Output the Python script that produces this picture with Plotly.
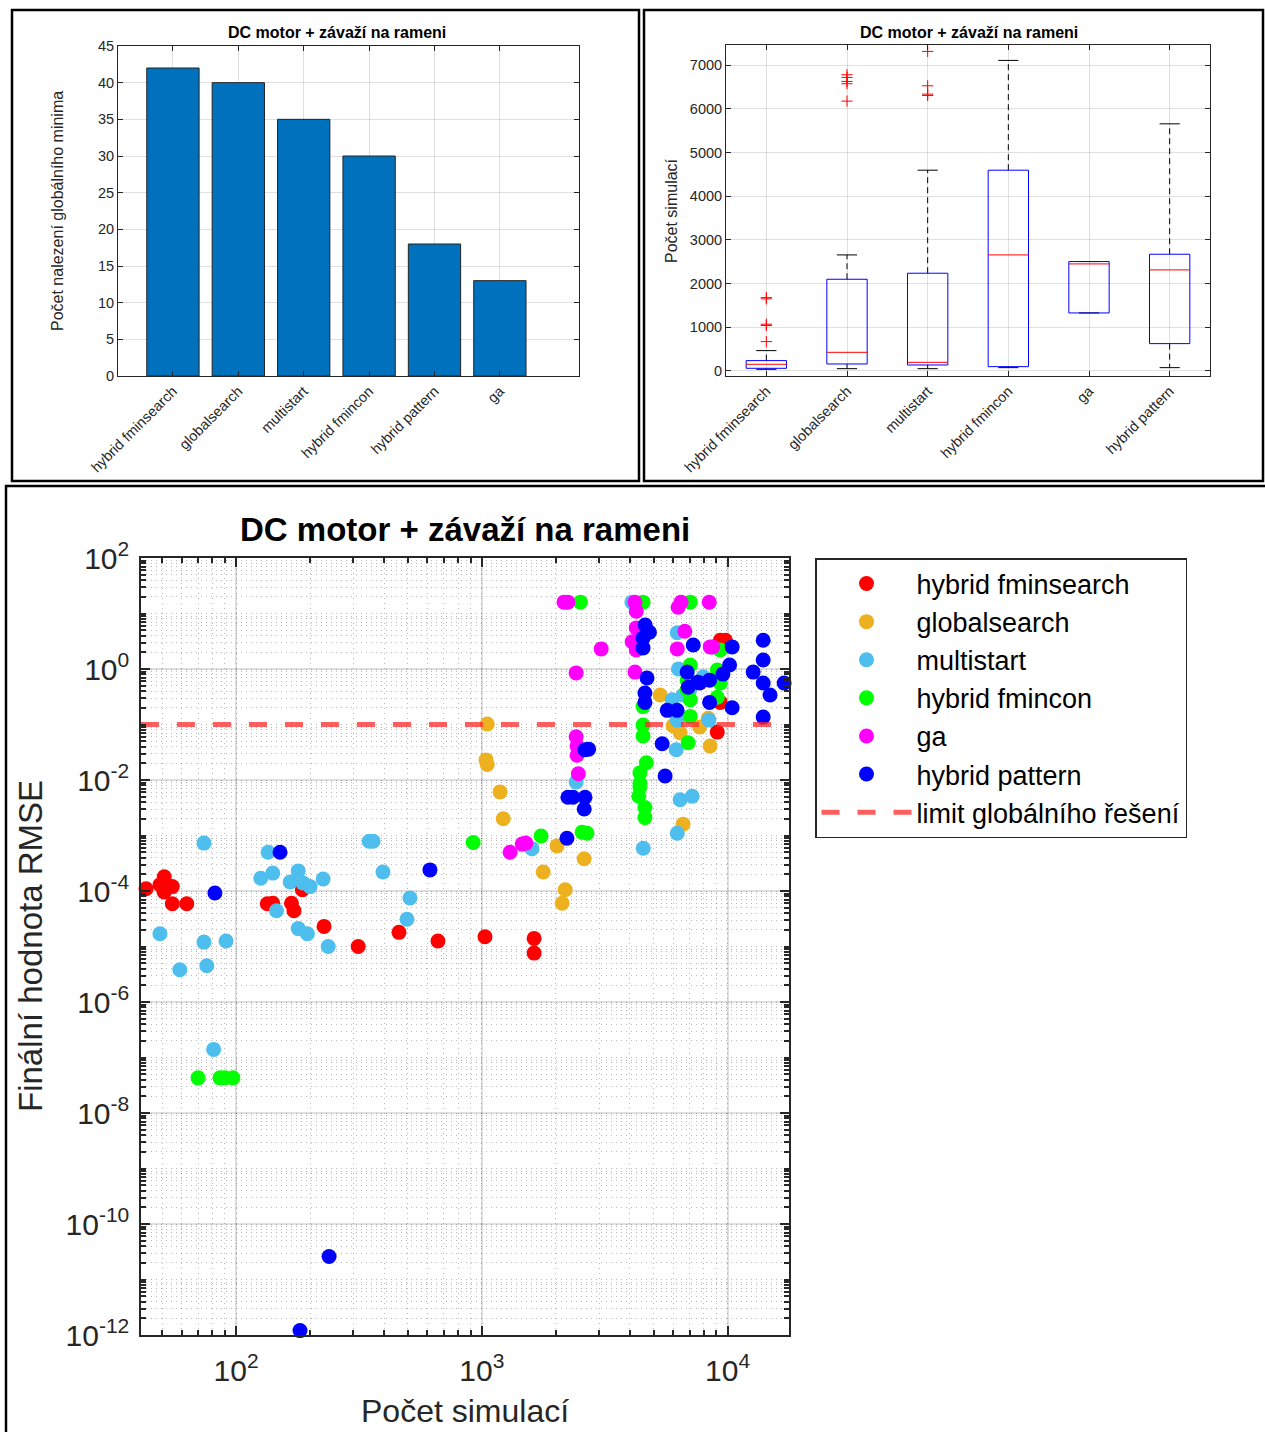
import plotly.graph_objects as go

W, H = 1265, 1432

# ---------------- data ----------------
bar_categories = ["hybrid fminsearch", "globalsearch", "multistart", "hybrid fmincon", "hybrid pattern", "ga"]
bar_counts = [42, 40, 35, 30, 18, 13]

box_categories = ["hybrid fminsearch", "globalsearch", "multistart", "hybrid fmincon", "ga", "hybrid pattern"]
box_q1 = [61, 160, 137, 99, 1328, 626]
box_med = [153, 427, 198, 2656, 2450, 2313]
box_q3 = [237, 2099, 2237, 4595, 2504, 2672]
box_lo = [38, 53, 53, 76, 1328, 76]
box_hi = [466, 2656, 4595, 7107, 2504, 5656]
box_outliers = [
    [672, 1040, 1070, 1650, 1680],
    [6176, 6573, 6626, 6718, 6779],
    [6305, 6336, 6527, 7313],
    [],
    [],
    [],
]

fmins_x = [41, 43, 49, 51, 51, 55, 55, 63, 134, 141, 168, 172, 186, 228, 314, 460, 663, 1030, 1632, 1632,
           9340, 9800, 9340, 9080]
fmins_y = [3.5e-4, 1.1e-4, 1.3e-4, 1.8e-4, 9.6e-5, 1.2e-4, 5.9e-5, 5.9e-5, 5.9e-5, 6.0e-5, 6.0e-5, 4.4e-5,
           1.05e-4, 2.3e-5, 1.0e-5, 1.8e-5, 1.26e-5, 1.5e-5, 1.4e-5, 7.6e-6, 3.3, 3.3, 0.25, 0.073]

gs_x = [1052, 1040, 1052, 1186, 1222, 2023, 1777, 2184, 2122, 2608, 5320, 6410, 6000, 8490, 8340, 6590, 7700]
gs_y = [0.102, 0.023, 0.019, 0.0061, 0.002, 6.5e-4, 2.2e-4, 1.05e-4, 6e-5, 3.8e-4, 0.34, 0.071, 0.095,
        0.041, 0.13, 0.0016, 0.09]

ms_x = [74, 135, 126, 141, 179, 166, 187, 200, 226, 348, 361, 396, 510, 496, 49, 74, 91, 59, 76, 146, 179,
        195, 237, 81, 1600, 2420, 4540, 6410, 7180, 6240, 4080, 6240, 6310, 6590, 6240, 7960, 8400, 6180,
        5950, 7010]
ms_y = [7.3e-4, 5e-4, 1.7e-4, 2.1e-4, 2.3e-4, 1.45e-4, 1.4e-4, 1.2e-4, 1.65e-4, 7.9e-4, 7.9e-4, 2.2e-4,
        7.5e-5, 3.1e-5, 1.7e-5, 1.2e-5, 1.26e-5, 3.8e-6, 4.5e-6, 4.4e-5, 2.1e-5, 1.7e-5, 1.0e-5, 1.4e-7,
        5.8e-4, 0.0092, 5.9e-4, 0.0044, 0.0051, 0.0011, 16, 4.5, 1.0, 0.34, 0.12, 0.72, 0.12, 0.035, 0.28,
        0.42]

fmc_x = [70, 86, 90, 97, 922, 1742, 2560, 2680, 2520, 4530, 7050, 7050, 6850, 6850, 7050, 7050, 9080, 9340,
         9080, 9340, 4530, 4530, 4530, 4670, 4400, 4400, 4350, 4610, 4610, 6910, 4400]
fmc_y = [4.3e-8, 4.3e-8, 4.3e-8, 4.3e-8, 7.5e-4, 9.8e-4, 1.15e-3, 1.1e-3, 16, 16, 16, 1.18, 0.63, 0.42,
         0.28, 0.14, 0.96, 0.56, 0.31, 2.2, 0.21, 0.098, 0.062, 0.0204, 0.0135, 0.0075, 0.0051, 0.0032,
         0.0021, 0.047, 0.0087]

ga_x = [2160, 2240, 3060, 2420, 4200, 4250, 4250, 4090, 4250, 4200, 6470, 6290, 6700, 6240, 8420, 8500,
        8700, 2420, 2440, 2440, 2470, 1303, 1460, 1510]
ga_y = [16, 16, 2.3, 0.85, 16, 11, 5.5, 3.1, 2.2, 0.88, 16, 13, 4.8, 2.3, 16, 2.5, 2.5, 0.06, 0.041,
        0.028, 0.013, 5e-4, 7e-4, 7.3e-4]

pat_x = [151, 82, 615, 239, 182, 2630, 2720, 2240, 2350, 2630, 2610, 2220, 4620, 4810, 4530, 4530, 4700,
         4610, 4610, 5420, 5570, 5680, 6230, 7250, 10440, 10190, 6850, 6910, 7560, 8450, 9570, 8450, 10440,
         13960, 13960, 12710, 13960, 14890, 13960, 16990, 7700]
pat_y = [5e-4, 9.2e-5, 2.4e-4, 2.6e-11, 1.2e-12, 0.035, 0.036, 0.0049, 0.0049, 0.0049, 0.003, 8.9e-4, 6.2,
         4.6, 3.6, 2.4, 0.69, 0.37, 0.25, 0.045, 0.0118, 0.18, 0.18, 2.7, 2.5, 1.18, 0.88, 0.47, 0.58, 0.63,
         0.81, 0.25, 0.2, 3.3, 1.45, 0.88, 0.56, 0.34, 0.136, 0.56, 0.56]

rmse_limit = 0.1

series_names = ["hybrid fminsearch", "globalsearch", "multistart", "hybrid fmincon", "ga", "hybrid pattern"]
series_x = [fmins_x, gs_x, ms_x, fmc_x, ga_x, pat_x]
series_y = [fmins_y, gs_y, ms_y, fmc_y, ga_y, pat_y]
series_colors = ["#FF0000", "#EDB120", "#4DBEEE", "#00FF00", "#FF00FF", "#0000FF"]

x_exponents = [2, 3, 4]
y_exponents = [2, 0, -2, -4, -6, -8, -10, -12]

# ---------------- helpers ----------------
def px(x):
    return x / W

def py(y):
    return 1 - y / H

FONT = "Liberation Sans, Arial, Helvetica, sans-serif"
AXC = "#262626"
GRID = "rgba(38,38,38,0.14)"
MINOR_GRID = "rgba(40,40,40,0.32)"

fig = go.Figure()

# ---------------- bar chart ----------------
fig.add_trace(go.Bar(
    x=bar_categories, y=bar_counts, width=0.8,
    marker=dict(color="#0072BD", line=dict(color="#222222", width=1)),
    xaxis="x", yaxis="y", showlegend=False, hoverinfo="x+y"))

# ---------------- box plot (drawn from stats) ----------------
hw, cw = 0.25, 0.125
bx, by, mx, my, wx, wy, cx, cy, ox, oy = [], [], [], [], [], [], [], [], [], []
for i in range(len(box_categories)):
    bx += [i - hw, i + hw, i + hw, i - hw, i - hw, None]
    by += [box_q1[i], box_q1[i], box_q3[i], box_q3[i], box_q1[i], None]
    mx += [i - hw, i + hw, None]
    my += [box_med[i], box_med[i], None]
    wx += [i, i, None, i, i, None]
    wy += [box_q3[i], box_hi[i], None, box_q1[i], box_lo[i], None]
    cx += [i - cw, i + cw, None, i - cw, i + cw, None]
    cy += [box_hi[i], box_hi[i], None, box_lo[i], box_lo[i], None]
    for v in box_outliers[i]:
        ox.append(i)
        oy.append(v)

fig.add_trace(go.Scatter(x=wx, y=wy, mode="lines", line=dict(color="#000000", width=1, dash="6px,4px"),
                         xaxis="x2", yaxis="y2", showlegend=False, hoverinfo="skip"))
fig.add_trace(go.Scatter(x=cx, y=cy, mode="lines", line=dict(color="#000000", width=1),
                         xaxis="x2", yaxis="y2", showlegend=False, hoverinfo="skip"))
fig.add_trace(go.Scatter(x=bx, y=by, mode="lines", line=dict(color="#0000FF", width=1),
                         xaxis="x2", yaxis="y2", showlegend=False, hoverinfo="skip"))
fig.add_trace(go.Scatter(x=mx, y=my, mode="lines", line=dict(color="#FF0000", width=1),
                         xaxis="x2", yaxis="y2", showlegend=False, hoverinfo="skip"))
fig.add_trace(go.Scatter(x=ox, y=oy, mode="markers",
                         marker=dict(symbol="cross-thin", size=8, line=dict(color="#FF0000", width=1)),
                         xaxis="x2", yaxis="y2", showlegend=False))

# ---------------- scatter ----------------
for k, (name, xs, ys, col) in enumerate(zip(series_names, series_x, series_y, series_colors)):
    fig.add_trace(go.Scatter(x=xs, y=ys, mode="markers", name=name,
                             marker=dict(color=col, size=15, line=dict(width=0)),
                             xaxis="x3", yaxis="y3", cliponaxis=False, legendgroup=name))

all_x = [v for s in series_x for v in s]
fig.add_trace(go.Scatter(x=[min(all_x), max(all_x)], y=[rmse_limit, rmse_limit], mode="lines",
                         name="limit globálního řešení",
                         line=dict(color="rgba(255,40,40,0.75)", width=5, dash="18px,18px"),
                         xaxis="x3", yaxis="y3", legendgroup="limit"))

# ---------------- layout ----------------
small_tick = dict(family=FONT, size=14.5, color=AXC)
big_tick = dict(family=FONT, size=30, color=AXC)

common = dict(showgrid=True, gridcolor=GRID, ticks="inside", tickcolor=AXC, showline=True,
              linecolor=AXC, mirror="ticks", zeroline=False, automargin=False)

fig.update_layout(
    template="none",
    width=W, height=H, margin=dict(l=0, r=0, t=0, b=0, pad=0, autoexpand=False),
    paper_bgcolor="white", plot_bgcolor="white",
    font=dict(family=FONT, color=AXC),
    xaxis=dict(domain=[px(118), px(579)], anchor="y", type="category", range=[-0.84, 6.21],
               ticklen=5, linewidth=1, tickangle=-45, tickfont=small_tick, **common),
    yaxis=dict(domain=[py(376), py(46)], anchor="x", range=[0, 45], dtick=5,
               ticklen=5, linewidth=1, tickfont=small_tick, **common),
    xaxis2=dict(domain=[px(726), px(1210)], anchor="y2", range=[-0.5, 5.5],
                tickvals=list(range(len(box_categories))), ticktext=box_categories,
                ticklen=5, linewidth=1, tickangle=-45, tickfont=small_tick, **common),
    yaxis2=dict(domain=[py(376), py(45)], anchor="x2", range=[-115, 7460], dtick=1000,
                ticklen=5, linewidth=1, tickfont=small_tick, **common),
    xaxis3=dict(domain=[px(141), px(789)], anchor="y3", type="log", range=[1.613, 4.25],
                tickvals=[10 ** e for e in x_exponents],
                ticktext=["10<sup>%d</sup>" % e for e in x_exponents],
                gridwidth=1.5, ticklen=9, tickwidth=1.5, linewidth=1.5, tickfont=big_tick,
                ticklabelstandoff=8,
                minor=dict(ticks="inside", ticklen=5, tickcolor=AXC, showgrid=True, dtick="D1",
                           gridcolor=MINOR_GRID, griddash="1px,4px", gridwidth=1),
                **common),
    yaxis3=dict(domain=[py(1335), py(558)], anchor="x3", type="log", range=[-12, 2],
                tickvals=[10.0 ** e for e in y_exponents],
                ticktext=["10<sup>%d</sup>" % e for e in y_exponents],
                gridwidth=1.5, ticklen=9, tickwidth=1.5, linewidth=1.5, tickfont=big_tick,
                ticklabelstandoff=4,
                minor=dict(ticks="inside", ticklen=5, tickcolor=AXC, showgrid=True, dtick="D1",
                           gridcolor=MINOR_GRID, griddash="1px,4px", gridwidth=1),
                **common),
    legend=dict(x=px(815), y=py(558), xanchor="left", yanchor="top",
                bgcolor="white", bordercolor="#262626", borderwidth=1.5,
                font=dict(family=FONT, size=27, color="#000000"),
                itemwidth=90, tracegroupgap=0, itemsizing="trace"),
    showlegend=True,
)

annotations = [
    dict(text="<b>DC motor + závaží na rameni</b>", x=px(337), y=py(33), font=dict(size=16, color="#000")),
    dict(text="<b>DC motor + závaží na rameni</b>", x=px(969), y=py(33), font=dict(size=16, color="#000")),
    dict(text="<b>DC motor + závaží na rameni</b>", x=px(465), y=py(530), font=dict(size=33, color="#000")),
    dict(text="Počet nalezení globálního minima", x=px(58), y=py(211), textangle=-90,
         font=dict(size=16, color=AXC)),
    dict(text="Počet simulací", x=px(672), y=py(211), textangle=-90, font=dict(size=16, color=AXC)),
    dict(text="Finální hodnota RMSE", x=px(30), y=py(946), textangle=-90, font=dict(size=33, color=AXC)),
    dict(text="Počet simulací", x=px(465), y=py(1411), font=dict(size=32, color=AXC)),
]
for a in annotations:
    a.update(xref="paper", yref="paper", showarrow=False, xanchor="center", yanchor="middle")
    a["font"]["family"] = FONT
fig.update_layout(annotations=annotations)

# panel frames
frames = [(12, 10, 639, 481), (644, 10, 1263, 481), (6, 486, 1268, 1436)]
fig.update_layout(shapes=[
    dict(type="rect", xref="paper", yref="paper", x0=px(a), x1=px(c), y0=py(d), y1=py(b),
         line=dict(color="#000000", width=2.5), fillcolor="rgba(0,0,0,0)", layer="below")
    for (a, b, c, d) in frames
])

fig.write_html("out.html")
